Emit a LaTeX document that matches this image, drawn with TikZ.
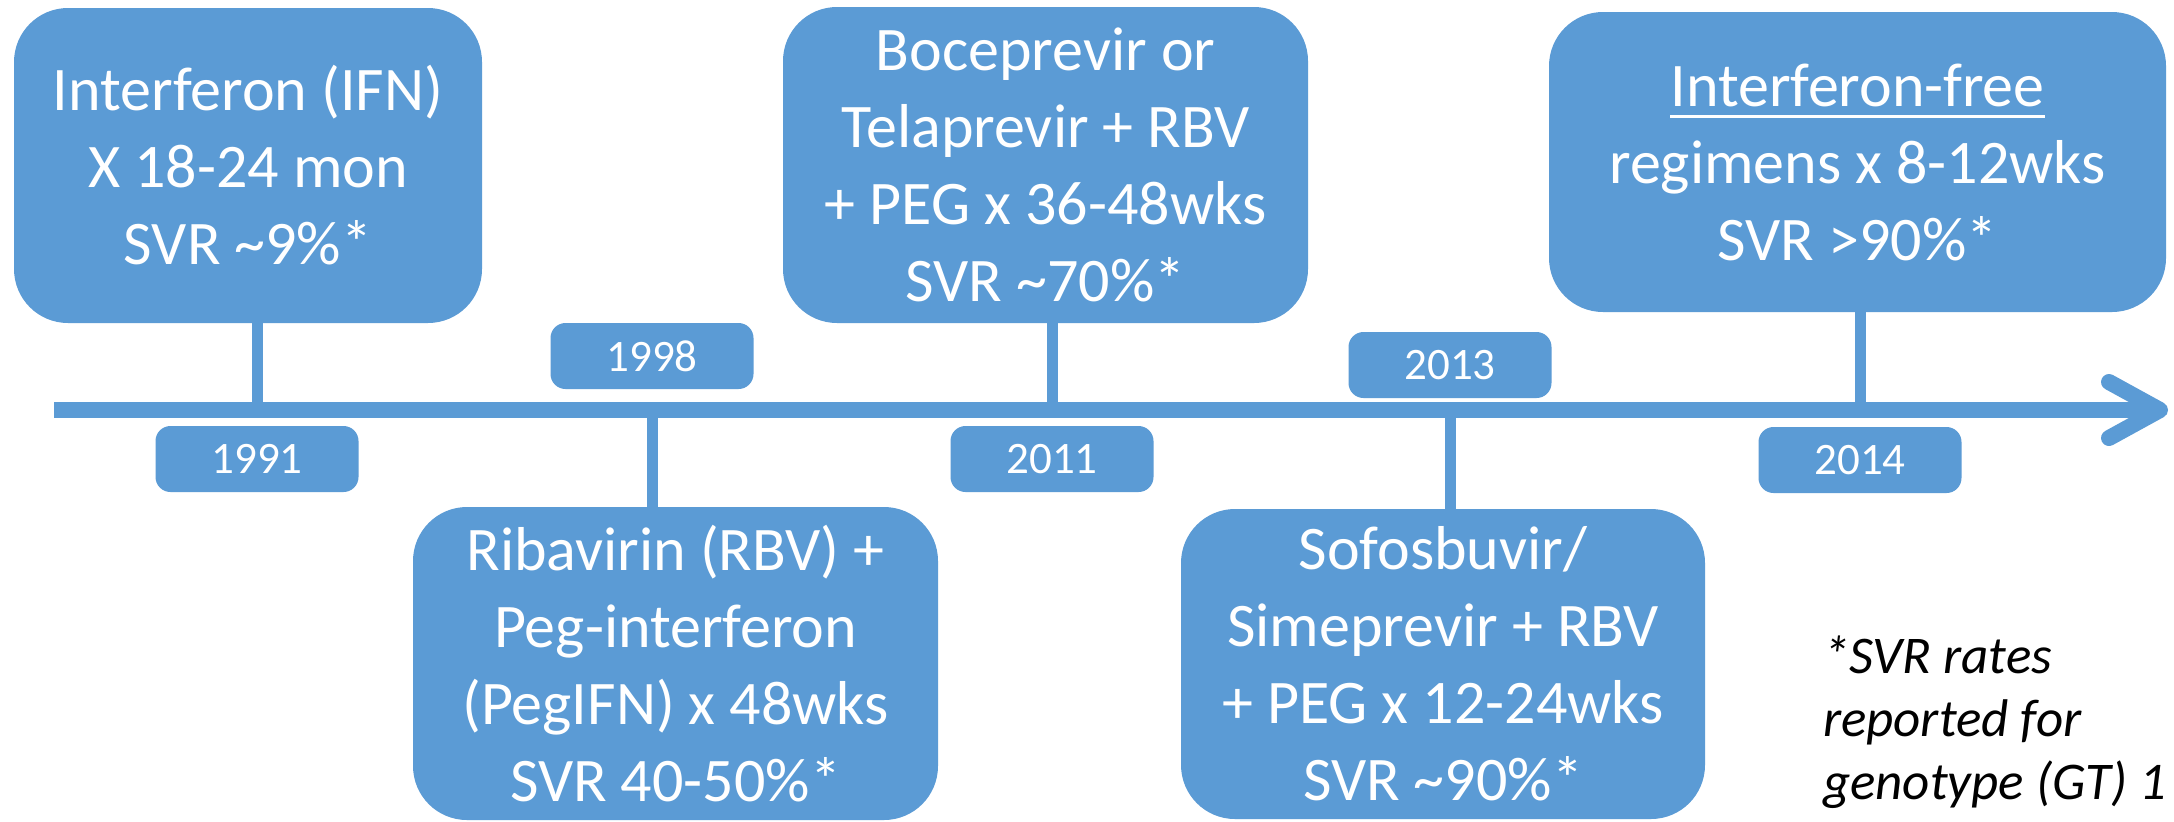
\documentclass[tikz,border=0pt]{standalone}
\usepackage{fontspec}
\setmainfont{Carlito}
\usetikzlibrary{arrows.meta}
\newcommand{\ulinetext}[1]{\setbox0\hbox{#1}\rlap{\rule[-5.75pt]{\wd0}{1.5pt}}\box0}

\begin{document}
\begin{tikzpicture}[x=0.5pt,y=-0.5pt,
  eventbox/.style={fill=fillColor,rounded corners=27pt,inner sep=0pt,outer sep=0pt,
    text=white,align=center,font=\fontsize{31}{38.5}\selectfont},
  yearbox/.style={fill=fillColor,rounded corners=7.5pt,minimum width=101.5pt,minimum height=33pt,
    inner sep=0pt,outer sep=0pt,text=white,font=\fontsize{22.5}{27}\selectfont},
  stemline/.style={draw=fillColor,line width=5.5pt},
  axisline/.style={draw=fillColor,line width=8pt,
    -{Straight Barb[round,length=25.5pt,width=28pt]}},
  notetext/.style={inner sep=0pt,outer sep=0pt,text=textColor,align=left,
    font=\itshape\fontsize{26.5}{31.5}\selectfont}]
\definecolor{fillColor}{RGB}{91,155,213}
\definecolor{textColor}{RGB}{0,0,0}
\path[use as bounding box,fill=white] (0,0) rectangle (2174,821);

% time axis
\coordinate (axstart) at (  54,410);
\coordinate (axend) at (2168,410);

% years
\node[yearbox] (y1991) at ( 257,459) {1991};
\node[yearbox] (y1998) at ( 652,356) {1998};
\node[yearbox] (y2011) at (1052,459) {2011};
\node[yearbox] (y2013) at (1450,365) {2013};
\node[yearbox] (y2014) at (1860,460) {2014};

% treatments
\node[eventbox,minimum width=234pt,minimum height=157.5pt] (ifn) at ( 248,165.5)
  {Interferon (IFN)\\X 18-24 mon\\SVR \textasciitilde9\%*};
\node[eventbox,minimum width=262.5pt,minimum height=156.5pt] (rbv) at ( 675.5,663.5)
  {Ribavirin (RBV) +\\Peg-interferon\\(PegIFN) x 48wks\\SVR 40-50\%*};
\node[eventbox,minimum width=262.5pt,minimum height=158pt] (boc) at (1045.5,165)
  {Boceprevir or\\Telaprevir + RBV\\+ PEG x 36-48wks\\SVR \textasciitilde70\%*};
\node[eventbox,minimum width=262pt,minimum height=155pt] (sof) at (1443,664)
  {Sofosbuvir/\\Simeprevir + RBV\\+ PEG x 12-24wks\\SVR \textasciitilde90\%*};
\node[eventbox,minimum width=308.5pt,minimum height=150pt] (free) at (1857.5,162)
  {\ulinetext{Interferon-free}\\regimens x 8-12wks\\SVR >90\%*};

% stems
\path[stemline] (y1991 |- ifn.south) -- (y1991 |- axstart);
\path[stemline] (y1998 |- rbv.north) -- (y1998 |- axstart);
\path[stemline] (y2011 |- boc.south) -- (y2011 |- axstart);
\path[stemline] (y2013 |- sof.north) -- (y2013 |- axstart);
\path[stemline] (y2014 |- free.south) -- (y2014 |- axstart);

\draw[axisline] (axstart) -- (axend);

\node[notetext,anchor=north west] (note) at (1823,636)
  {*SVR rates\\reported for\\genotype (GT) 1};
\end{tikzpicture}
\end{document}
